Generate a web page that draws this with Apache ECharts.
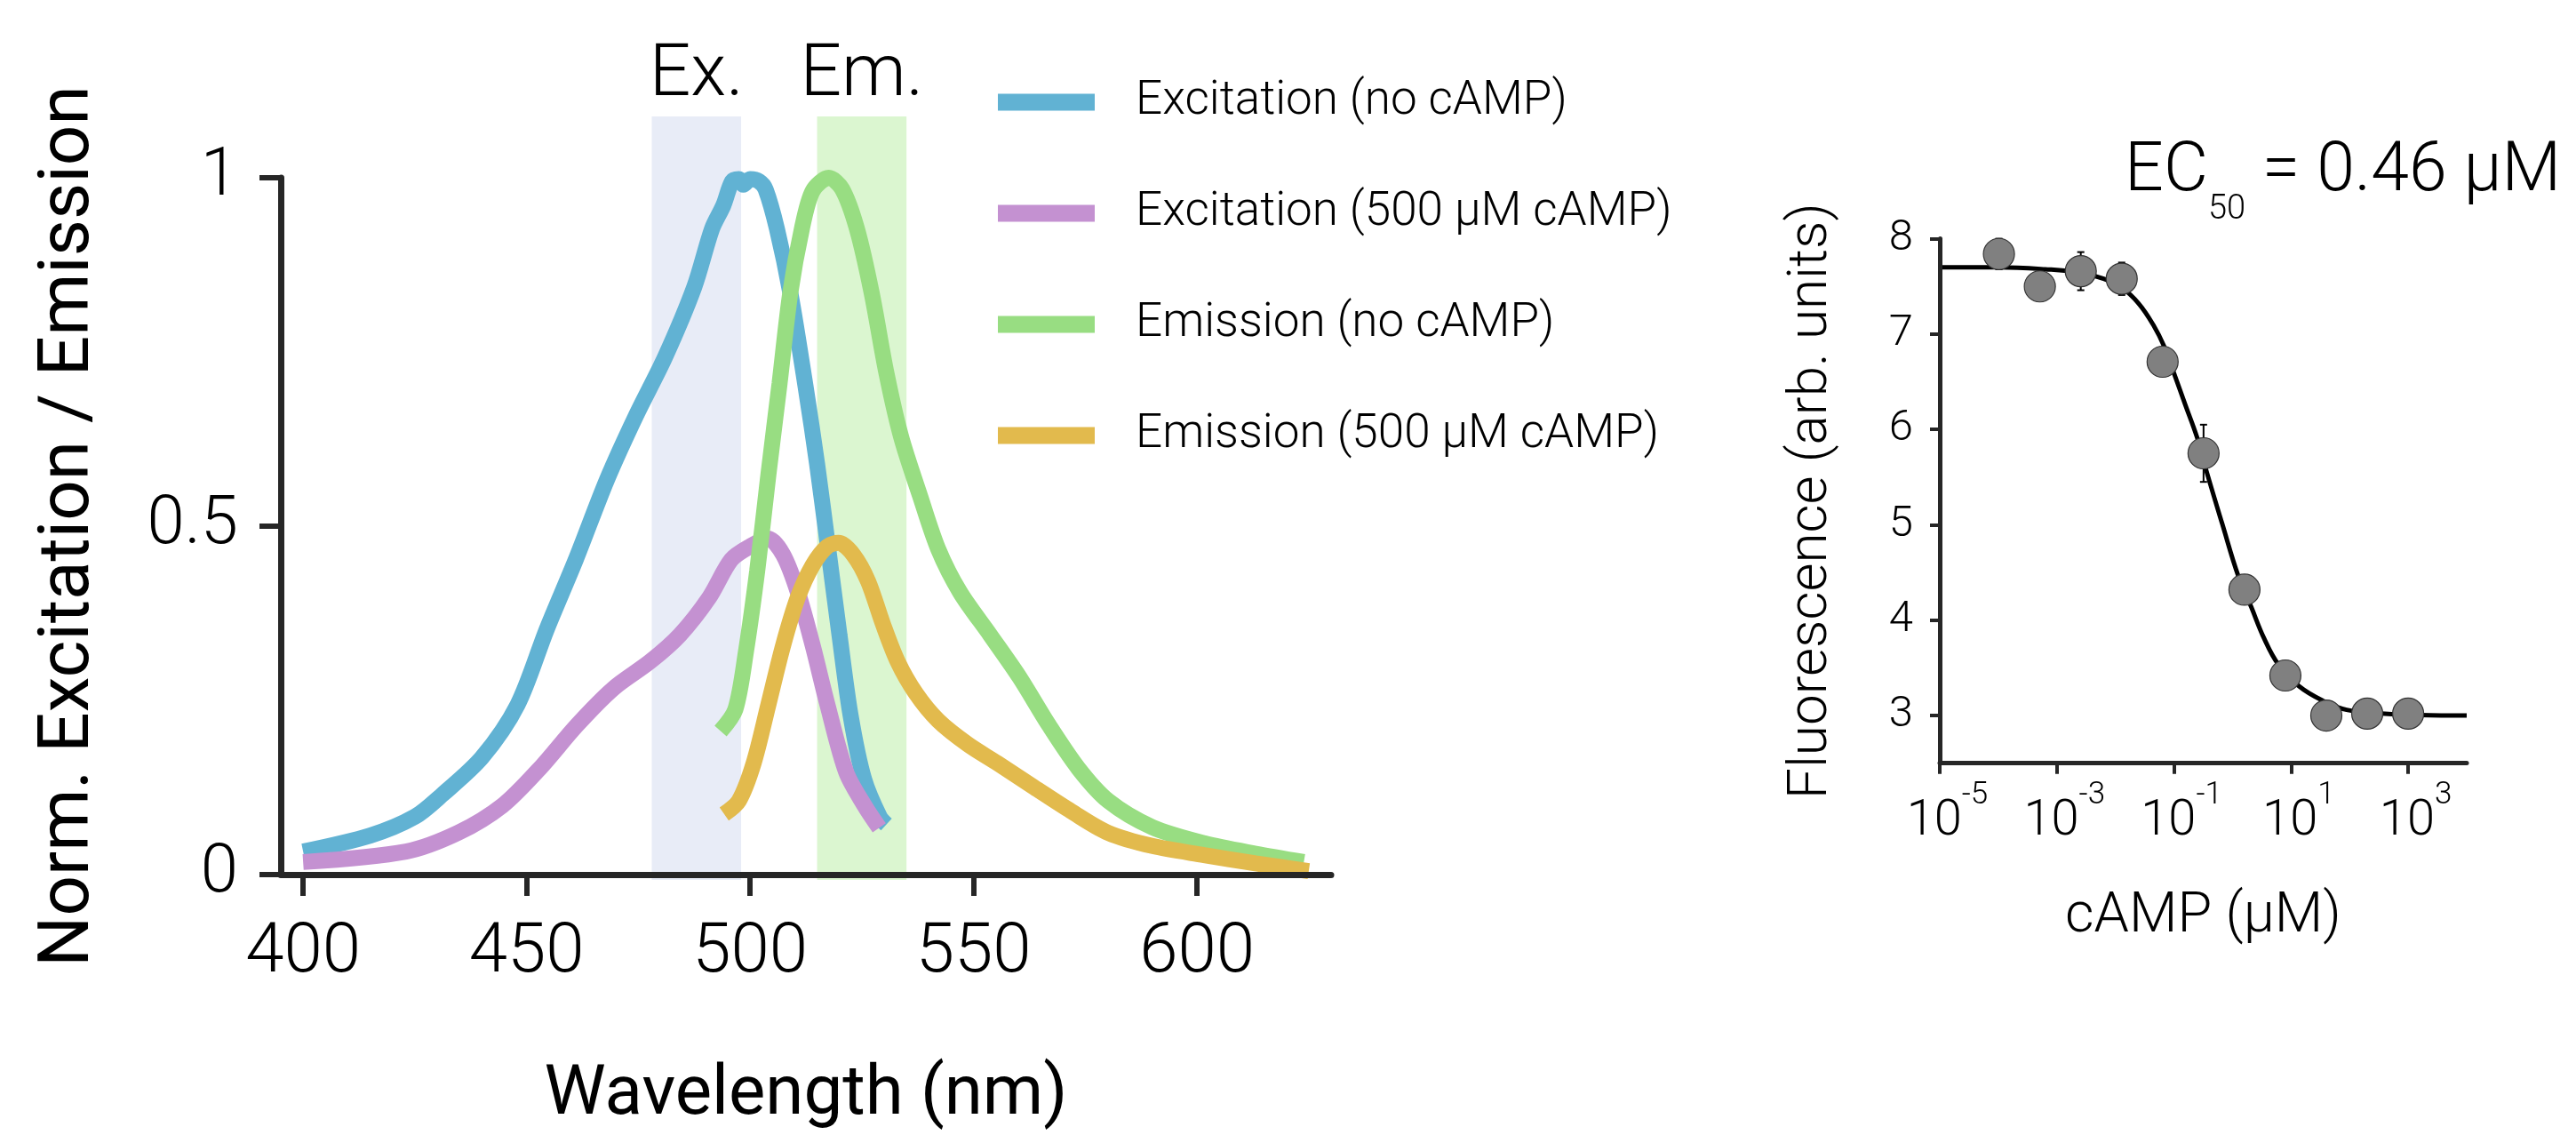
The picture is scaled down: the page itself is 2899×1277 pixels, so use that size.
<!DOCTYPE html>
<html>
<head>
<meta charset="utf-8">
<title>cAMP sensor spectra and dose response</title>
<script src="https://cdn.jsdelivr.net/npm/echarts@6/dist/echarts.min.js"></script>
<style>
  html, body { margin: 0; padding: 0; background: #fff; }
  #main { width: 2899px; height: 1277px; }
</style>
</head>
<body>
<div id="main"></div>
<script>
// ---- spectra, normalised ----
var exNoWl   = [400, 415, 425, 431, 440, 448, 454.5, 461, 468, 474.5, 481, 487.5, 491.5, 494, 496, 497.5, 498.5, 500, 502, 503.5, 506, 509, 512.5, 515, 517.5, 520, 522.5, 525.5, 529, 530.5];
var exNoVal  = [0.033, 0.056, 0.083, 0.114, 0.168, 0.244, 0.352, 0.452, 0.567, 0.659, 0.743, 0.843, 0.927, 0.96, 0.995, 0.998, 0.99, 0.998, 0.995, 0.983, 0.927, 0.835, 0.697, 0.589, 0.467, 0.344, 0.228, 0.137, 0.083, 0.072];

var exCampWl  = [400, 423, 434.7, 444.6, 452.9, 461.2, 469.4, 477.7, 484.3, 490.9, 495.8, 500, 504, 507.4, 510.7, 514, 517.3, 521.5, 525.6, 528.9];
var exCampVal = [0.018, 0.033, 0.060, 0.099, 0.152, 0.214, 0.267, 0.306, 0.344, 0.398, 0.452, 0.471, 0.482, 0.459, 0.405, 0.329, 0.244, 0.147, 0.099, 0.067];

var emNoWl   = [493.4, 496.7, 499.1, 501.6, 504.1, 506.6, 509, 511.6, 514, 517.6, 520.6, 523.9, 527.2, 530.5, 533.8, 538, 542.1, 547, 553.7, 560.3, 566.9, 573.5, 580.1, 590, 601.6, 613.1, 623.9];
var emNoVal  = [0.206, 0.237, 0.321, 0.436, 0.574, 0.705, 0.835, 0.927, 0.981, 1.0, 0.984, 0.927, 0.835, 0.72, 0.628, 0.544, 0.467, 0.405, 0.344, 0.283, 0.214, 0.152, 0.106, 0.068, 0.045, 0.030, 0.018];

var emCampWl  = [494.2, 497.5, 500.8, 504.1, 507.4, 510.7, 514, 517.3, 519.8, 523.1, 526.4, 529.7, 533, 537.1, 542.1, 548.7, 555.3, 563.6, 571.8, 580.1, 590, 601.6, 613.1, 625];
var emCampVal = [0.087, 0.106, 0.16, 0.244, 0.329, 0.398, 0.444, 0.471, 0.476, 0.459, 0.421, 0.36, 0.306, 0.26, 0.221, 0.187, 0.16, 0.125, 0.091, 0.06, 0.041, 0.028, 0.016, 0.005];

var seriesNames = ['Excitation (no cAMP)', 'Excitation (500 µM cAMP)', 'Emission (no cAMP)', 'Emission (500 µM cAMP)'];
var seriesColors = ['#61b2d3', '#c491d1', '#98dd82', '#e2ba4d'];

// filter windows (nm)
var bandNames = ['Ex.', 'Em.'];
var bandFrom  = [478, 515];
var bandTo    = [498, 535];
var bandColors = ['#e8ecf7', '#dbf6d0'];

var wlTicks = [400, 450, 500, 550, 600];

// ---- dose response ----
var campConc = [0.0001024, 0.000512, 0.00256, 0.0128, 0.064, 0.32, 1.6, 8, 40, 200, 1000];   // µM
var fluo     = [7.84, 7.50, 7.66, 7.58, 6.71, 5.75, 4.32, 3.42, 3.00, 3.02, 3.02];
var fluoErr  = [0.16, 0.08, 0.2, 0.17, 0.08, 0.3, 0.08, 0.08, 0.06, 0.06, 0.06];

var fitConc = [1e-5, 1e-4, 6.3e-4, 2.5e-3, 6.3e-3, 0.0126, 0.025, 0.045, 0.068, 0.1, 0.158, 0.25, 0.36, 0.66, 1.26, 2.1, 3.4, 6.0, 13.5, 35, 89, 400, 1600, 10000];
var fitVal  = [7.70, 7.70, 7.68, 7.645, 7.58, 7.49, 7.32, 7.09, 6.87, 6.59, 6.25, 5.91, 5.56, 5.02, 4.46, 4.135, 3.82, 3.54, 3.31, 3.155, 3.06, 3.02, 3.005, 3.0];

var decadeTicks = [-5, -3, -1, 1, 3];   // log10 of µM
var fluoTicks = [3, 4, 5, 6, 7, 8];

function zip(a, b) {
  return a.map(function (v, i) { return [v, b[i]]; });
}
function logZip(a, b) {
  return a.map(function (v, i) { return [Math.log10(v), b[i]]; });
}

var FONT = 'Roboto';
var AX = '#262626';

var spectra = [[exNoWl, exNoVal], [exCampWl, exCampVal], [emNoWl, emNoVal], [emCampWl, emCampVal]];
var lineSeries = spectra.map(function (s, i) {
  return {
    name: seriesNames[i],
    type: 'line',
    xAxisIndex: 0,
    yAxisIndex: 0,
    data: zip(s[0], s[1]),
    symbol: 'none',
    smooth: 0.3,
    lineStyle: { width: 18, color: seriesColors[i], cap: 'butt' },
    itemStyle: { color: seriesColors[i] },
    z: 3
  };
});

var chart = echarts.init(document.getElementById('main'));

var option = {
  animation: false,
  backgroundColor: '#fff',
  title: {
    right: 12,
    top: 151,
    text: '{m|EC}{s|50}{m| = 0.46 µM}',
    textStyle: {
      rich: {
        m: { fontFamily: FONT, fontWeight: 300, fontSize: 77, color: '#000', padding: [0, 0, 22, 0] },
        s: { fontFamily: FONT, fontWeight: 300, fontSize: 38, color: '#000', verticalAlign: 'bottom' }
      }
    }
  },
  legend: {
    orient: 'vertical',
    left: 1118,
    top: 80,
    icon: 'rect',
    itemWidth: 109,
    itemHeight: 19,
    itemGap: 65,
    data: seriesNames,
    itemStyle: { borderWidth: 0 },
    textStyle: { fontFamily: FONT, fontWeight: 300, fontSize: 53, color: '#000', lineHeight: 60, padding: [0, 0, 0, 41] }
  },
  grid: [
    { left: 316, right: 1401, top: 200, bottom: 287 },
    { left: 316, right: 1401, top: 131, bottom: 287 },
    { left: 2183, right: 123, top: 268.6, bottom: 418.3 }
  ],
  xAxis: [
    {
      gridIndex: 0, type: 'value', min: 395, max: 630, z: 5,
      name: 'Wavelength (nm)', nameLocation: 'middle', nameGap: 210,
      nameTextStyle: { fontFamily: FONT, fontSize: 78, color: '#000' },
      axisLine: { onZero: false, lineStyle: { color: AX, width: 7 } },
      axisTick: { customValues: wlTicks, length: 24, lineStyle: { color: AX, width: 6 } },
      axisLabel: { customValues: wlTicks, margin: 50, fontFamily: FONT, fontWeight: 300, fontSize: 78, color: '#000' },
      splitLine: { show: false }
    },
    { gridIndex: 1, type: 'value', min: 395, max: 630, show: false },
    {
      gridIndex: 2, type: 'value', min: -5, max: 4, z: 5,
      name: 'cAMP (µM)', nameLocation: 'middle', nameGap: 142,
      nameTextStyle: { fontFamily: FONT, fontWeight: 300, fontSize: 63, color: '#000' },
      axisLine: { onZero: false, lineStyle: { color: AX, width: 5 } },
      axisTick: { customValues: decadeTicks, length: 12, lineStyle: { color: AX, width: 4 } },
      axisLabel: {
        customValues: decadeTicks, margin: 19,
        formatter: function (v) { return '{b|10}{s|' + v + '}'; },
        rich: {
          b: { fontFamily: FONT, fontWeight: 300, fontSize: 56, color: '#000', padding: [19, 0, 0, 17] },
          s: { fontFamily: FONT, fontWeight: 300, fontSize: 35, color: '#000', verticalAlign: 'top' }
        }
      },
      splitLine: { show: false }
    }
  ],
  yAxis: [
    {
      gridIndex: 0, type: 'value', min: 0, max: 1, interval: 0.5, z: 5,
      name: 'Norm. Excitation / Emission', nameLocation: 'middle', nameGap: 197,
      nameTextStyle: { fontFamily: FONT, fontSize: 80, color: '#000' },
      axisLine: { onZero: false, lineStyle: { color: AX, width: 7 } },
      axisTick: { length: 24, lineStyle: { color: AX, width: 6 } },
      axisLabel: { margin: 48, fontFamily: FONT, fontWeight: 300, fontSize: 76, color: '#000', padding: [0, 0, 34, 0] },
      splitLine: { show: false }
    },
    { gridIndex: 1, type: 'value', min: 0, max: 1, show: false },
    {
      gridIndex: 2, type: 'value', min: 2.5, max: 8, z: 5,
      name: 'Fluorescence (arb. units)', nameLocation: 'middle', nameGap: 113,
      nameTextStyle: { fontFamily: FONT, fontWeight: 300, fontSize: 62, color: '#000' },
      axisLine: { onZero: false, lineStyle: { color: AX, width: 5 } },
      axisTick: { customValues: fluoTicks, length: 11, lineStyle: { color: AX, width: 4 } },
      axisLabel: { customValues: fluoTicks, margin: 30, fontFamily: FONT, fontWeight: 300, fontSize: 49, color: '#000' },
      splitLine: { show: false }
    }
  ],
  series: lineSeries.concat([
    {
      name: 'bands',
      type: 'line',
      xAxisIndex: 1,
      yAxisIndex: 1,
      data: [[395, 0]],
      symbol: 'none',
      lineStyle: { width: 0 },
      z: 1,
      silent: true,
      markArea: {
        silent: true,
        label: { show: true, position: 'top', distance: 4, fontFamily: FONT, fontWeight: 300, fontSize: 82, color: '#000' },
        data: bandNames.map(function (n, i) {
          return [
            { name: n, xAxis: bandFrom[i], yAxis: 0, itemStyle: { color: bandColors[i], opacity: 1 } },
            { xAxis: bandTo[i], yAxis: 1 }
          ];
        })
      }
    },
    {
      name: 'fit',
      type: 'line',
      xAxisIndex: 2,
      yAxisIndex: 2,
      data: logZip(fitConc, fitVal),
      symbol: 'none',
      smooth: 0.4,
      lineStyle: { width: 5, color: '#000' },
      z: 2
    },
    {
      name: 'errors',
      type: 'custom',
      xAxisIndex: 2,
      yAxisIndex: 2,
      data: campConc.map(function (c, i) { return [Math.log10(c), fluo[i], fluoErr[i]]; }),
      encode: { x: 0, y: 1 },
      z: 3,
      renderItem: function (params, api) {
        var x = api.value(0), y = api.value(1), e = api.value(2);
        var top = api.coord([x, y + e]);
        var bot = api.coord([x, y - e]);
        var w = 4;
        var st = { stroke: '#000', lineWidth: 2 };
        return {
          type: 'group',
          children: [
            { type: 'line', shape: { x1: top[0], y1: top[1], x2: bot[0], y2: bot[1] }, style: st },
            { type: 'line', shape: { x1: top[0] - w, y1: top[1], x2: top[0] + w, y2: top[1] }, style: st },
            { type: 'line', shape: { x1: bot[0] - w, y1: bot[1], x2: bot[0] + w, y2: bot[1] }, style: st }
          ]
        };
      }
    },
    {
      name: 'points',
      type: 'scatter',
      xAxisIndex: 2,
      yAxisIndex: 2,
      data: logZip(campConc, fluo),
      symbol: 'circle',
      symbolSize: 35,
      itemStyle: { color: '#808080', borderColor: '#333', borderWidth: 1.2, opacity: 1 },
      z: 4
    }
  ])
};

chart.setOption(option);
</script>
</body>
</html>
